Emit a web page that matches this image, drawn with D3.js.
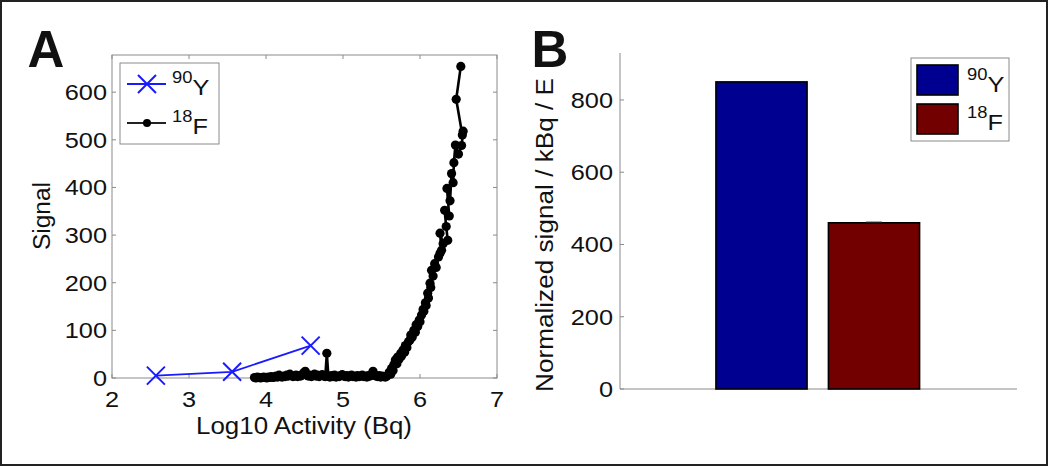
<!DOCTYPE html>
<html><head><meta charset="utf-8">
<script src="https://cdn.jsdelivr.net/npm/d3@7"></script>
<style>body{margin:0;background:#fff}svg{display:block}</style>
</head><body>
<svg id="c" width="1050" height="467"></svg>
<script>
// ---------- Panel A data ----------
const y90X = [2.57, 3.56, 4.58];
const y90Y = [5, 13, 68];
const f18X = [3.85,3.87,3.89,3.91,3.93,3.95,3.97,3.99,4.01,4.03,4.05,4.07,4.09,4.11,4.13,4.15,4.17,4.19,4.21,4.23,4.25,4.27,4.29,4.31,4.33,4.35,4.37,4.39,4.41,4.43,4.45,4.47,4.49,4.51,4.53,4.55,4.57,4.59,4.61,4.63,4.65,4.67,4.69,4.71,4.73,4.75,4.77,4.79,4.81,4.83,4.85,4.87,4.89,4.91,4.93,4.95,4.97,4.99,5.01,5.03,5.05,5.07,5.09,5.11,5.13,5.15,5.17,5.19,5.21,5.23,5.25,5.27,5.29,5.31,5.33,5.35,5.37,5.39,5.41,5.43,5.45,5.47,5.49,5.51,5.53,5.55,
  5.57,5.60,5.62,5.63,5.65,5.66,5.68,5.70,5.71,5.73,5.75,5.76,5.78,5.80,5.81,5.83,5.85,5.87,5.88,5.90,5.92,5.94,5.95,5.97,5.99,6.00,6.02,6.04,6.05,6.07,6.08,6.10,6.11,6.13,6.14,6.15,6.17,6.19,6.21,6.24,6.26,6.28,6.26,6.30,6.36,6.34,6.32,6.38,6.35,6.39,6.41,6.43,6.44,6.46,6.50,6.54,6.56,6.55,6.47,6.53];
const f18Y = [1,0,2,1,0,1,2,1,0,2,1,3,1,2,4,2,6,3,2,4,3,6,4,8,5,3,4,6,3,5,4,7,11,14,6,4,6,3,5,8,4,6,3,5,7,4,3,52,4,2,5,3,6,2,4,3,5,7,4,3,5,2,4,6,3,4,2,5,3,4,6,3,4,2,5,4,8,14,6,4,3,5,2,4,3,2,
  4,12,8,20,16,28,38,30,44,40,52,46,59,54,68,64,76,80,90,86,100,96,112,108,122,118,132,144,140,158,152,178,168,199,190,226,214,240,232,254,262,268,304,282,289,318,352,340,398,372,429,410,452,489,470,488,518,510,585,654];
const aXTicks = [2,3,4,5,6,7];
const aYTicks = [0,100,200,300,400,500,600];

// ---------- Panel B data ----------
const bCats = ["90Y","18F"];
const bVals = [850, 460];
const bErr = [0, 2];
const bColors = ["#000090","#720000"];
const bYTicks = [0,200,400,600,800];

const svg = d3.select("#c");
const FONT = "'Liberation Sans', Arial, Helvetica, sans-serif";
const SX = 1.15;
const AX = "#8a8a8a";

function label(g, x, y, s, o = {}) {
  const size = o.size || 22, anchor = o.anchor || "middle", rot = o.rotate || 0;
  const t = g.append("text")
    .attr("transform", `translate(${x},${y}) rotate(${rot})` + (o.len ? "" : ` scale(${o.sx || SX},1)`))
    .attr("text-anchor", anchor)
    .attr("font-family", FONT)
    .attr("font-size", size)
    .attr("font-weight", o.weight || "normal")
    .attr("fill", "#111")
    .text(s);
  if (o.len) t.attr("textLength", o.len).attr("lengthAdjust", "spacingAndGlyphs");
  return t;
}
function supLabel(g, x, y, sup, main) {
  const t = g.append("text")
    .attr("transform", `translate(${x},${y}) scale(${SX},1)`)
    .attr("font-family", FONT).attr("fill", "#111");
  t.append("tspan").attr("font-size", 16).attr("dy", -12).text(sup);
  t.append("tspan").attr("font-size", 22).attr("dy", 12).text(main);
}

// outer frame
svg.append("rect").attr("x", 1).attr("y", 1).attr("width", 1046).attr("height", 464)
  .attr("fill", "none").attr("stroke", "#222").attr("stroke-width", 2);

// ================= Panel A =================
const ax = d3.scaleLinear().domain([2, 7]).range([112, 497]);
const ay = d3.scaleLinear().domain([0, 678]).range([378, 55]);
const gA = svg.append("g");

gA.append("rect").attr("x", ax(2)).attr("y", ay(678)).attr("width", ax(7) - ax(2)).attr("height", ay(0) - ay(678))
  .attr("fill", "none").attr("stroke", AX).attr("stroke-width", 1);
const tk = gA.append("g").attr("stroke", AX).attr("stroke-width", 1);
aXTicks.forEach(v => {
  tk.append("line").attr("x1", ax(v)).attr("x2", ax(v)).attr("y1", ay(0)).attr("y2", ay(0) - 4);
  tk.append("line").attr("x1", ax(v)).attr("x2", ax(v)).attr("y1", ay(678)).attr("y2", ay(678) + 4);
  label(gA, ax(v), ay(0) + 29, String(v));
});
aYTicks.forEach(v => {
  tk.append("line").attr("x1", ax(2)).attr("x2", ax(2) + 4).attr("y1", ay(v)).attr("y2", ay(v));
  tk.append("line").attr("x1", ax(7)).attr("x2", ax(7) - 4).attr("y1", ay(v)).attr("y2", ay(v));
  label(gA, ax(2) - 5, ay(v) + 8, String(v), {anchor: "end"});
});
label(gA, 304, 434, "Log10 Activity (Bq)", {size: 23, len: 216});
label(gA, 50, 216, "Signal", {size: 23, rotate: -90, len: 68});
label(gA, 46, 67, "A", {size: 51, weight: "bold", sx: 1});

// 18F series
const f18 = f18X.map((x, i) => [x, f18Y[i]]);
gA.append("path").datum(f18)
  .attr("d", d3.line().x(d => ax(d[0])).y(d => ay(d[1])))
  .attr("fill", "none").attr("stroke", "#000").attr("stroke-width", 2.6);
gA.append("g").selectAll("circle").data(f18).join("circle")
  .attr("cx", d => ax(d[0])).attr("cy", d => ay(d[1])).attr("r", 4.6).attr("fill", "#000");

// 90Y series
const y90 = y90X.map((x, i) => [x, y90Y[i]]);
gA.append("path").datum(y90)
  .attr("d", d3.line().x(d => ax(d[0])).y(d => ay(d[1])))
  .attr("fill", "none").attr("stroke", "#1a1aff").attr("stroke-width", 1.8);
const xm = (g, cx, cy, s) => g.append("path")
  .attr("d", `M${cx - s},${cy - s}L${cx + s},${cy + s}M${cx - s},${cy + s}L${cx + s},${cy - s}`)
  .attr("stroke", "#1a1aff").attr("stroke-width", 2).attr("fill", "none");
y90.forEach(d => xm(gA, ax(d[0]), ay(d[1]), 9));

// legend A
const lg = gA.append("g");
lg.append("rect").attr("x", 120).attr("y", 63).attr("width", 99).attr("height", 81)
  .attr("fill", "#fff").attr("stroke", AX).attr("stroke-width", 1);
lg.append("line").attr("x1", 127).attr("x2", 166).attr("y1", 84).attr("y2", 84).attr("stroke", "#1a1aff").attr("stroke-width", 1.8);
xm(lg, 147, 84, 9);
lg.append("line").attr("x1", 127).attr("x2", 166).attr("y1", 123).attr("y2", 123).attr("stroke", "#222").attr("stroke-width", 2);
lg.append("circle").attr("cx", 147).attr("cy", 123).attr("r", 4).attr("fill", "#000");
supLabel(lg, 172, 95, "90", "Y");
supLabel(lg, 172, 134, "18", "F");

// ================= Panel B =================
const bx = d3.scaleBand().domain(bCats).range([705.25, 930.25]).paddingInner(0.19).paddingOuter(0.095);
const by = d3.scaleLinear().domain([0, 930]).range([389, 53]);
const gB = svg.append("g");
gB.append("line").attr("x1", 620).attr("x2", 620).attr("y1", by(930)).attr("y2", by(0)).attr("stroke", AX);
gB.append("line").attr("x1", 620).attr("x2", 1017).attr("y1", by(0)).attr("y2", by(0)).attr("stroke", AX);
bYTicks.forEach(v => {
  gB.append("line").attr("x1", 620).attr("x2", 624).attr("y1", by(v)).attr("y2", by(v)).attr("stroke", AX);
  label(gB, 613, by(v) + 8, String(v), {anchor: "end"});
});
label(gB, 553, 235, "Normalized signal / kBq / E", {size: 23, rotate: -90, len: 314});
label(gB, 550, 67, "B", {size: 51, weight: "bold", sx: 1});

gB.selectAll("rect.bar").data(bCats).join("rect").attr("class", "bar")
  .attr("x", d => bx(d)).attr("width", bx.bandwidth())
  .attr("y", (d, i) => by(bVals[i])).attr("height", (d, i) => by(0) - by(bVals[i]))
  .attr("fill", (d, i) => bColors[i]).attr("stroke", "#000").attr("stroke-width", 1.6);
bCats.forEach((c, i) => {
  if (!bErr[i]) return;
  const cx = bx(c) + bx.bandwidth() / 2;
  gB.append("line").attr("x1", cx).attr("x2", cx).attr("y1", by(bVals[i] + bErr[i])).attr("y2", by(bVals[i])).attr("stroke", "#000");
  gB.append("line").attr("x1", cx - 8).attr("x2", cx + 8).attr("y1", by(bVals[i] + bErr[i])).attr("y2", by(bVals[i] + bErr[i])).attr("stroke", "#333");
});

// legend B
const lb = gB.append("g");
lb.append("rect").attr("x", 911).attr("y", 58).attr("width", 98).attr("height", 83)
  .attr("fill", "#fff").attr("stroke", AX);
bCats.forEach((c, i) => {
  lb.append("rect").attr("x", 917).attr("y", 65 + i * 39).attr("width", 41).attr("height", 30)
    .attr("fill", bColors[i]).attr("stroke", "#000").attr("stroke-width", 1.6);
});
supLabel(lb, 967, 92, "90", "Y");
supLabel(lb, 967, 130, "18", "F");
</script>
</body></html>
